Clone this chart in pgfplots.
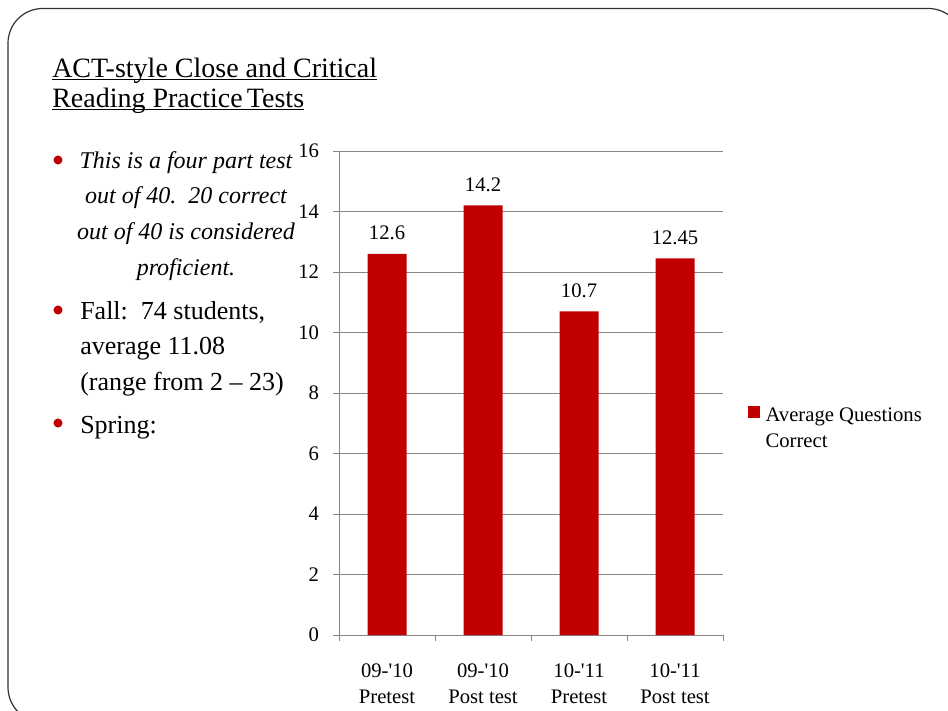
\documentclass[border=0pt]{standalone}
\usepackage{pgfplots}
\pgfplotsset{compat=1.18}
\usepackage{pgfplotstable}
\usepackage{fontspec}
\setmainfont{Liberation Serif}
\definecolor{barred}{RGB}{192,0,0}
\definecolor{axisgray}{RGB}{134,134,134}
\pgfplotstableread{
x y label
0 12.6 12.6
1 14.2 14.2
2 10.7 10.7
3 12.45 12.45
}\datatable
\newcommand\tickfont{\fontsize{15.5}{19.5}\selectfont}
\begin{document}
\begin{tikzpicture}
\begin{scope}[x=0.75pt,y=-0.75pt]
\useasboundingbox (0,0) rectangle (948,710);
\begin{scope}
\clip (0,0) rectangle (948,710);
\draw[line width=0.9pt, black!80, rounded corners=26pt] (8,8.5) rectangle (963,722);
\end{scope}
\coordinate (AO) at (339,635);
% title
\node[anchor=base west, inner sep=0pt, font=\fontsize{21}{25}\selectfont] (t1) at (52,77) {ACT-style Close and Critical};
\node[anchor=base west, inner sep=0pt, font=\fontsize{21}{25}\selectfont] (t2) at (52,107) {Reading Practice\hspace{0.15em}Tests};
\draw[line width=0.8pt] ([yshift=-1.6pt]t1.base west) -- ([yshift=-1.6pt]t1.base east);
\draw[line width=0.8pt] ([yshift=-1.6pt]t2.base west) -- ([yshift=-1.6pt]t2.base east);
% bullets
\foreach \yy in {160,310,423} \fill[barred] (58,\yy) circle (3.4pt);
\begin{scope}[every node/.style={inner sep=0pt, anchor=base, font=\fontsize{18}{22}\selectfont\itshape}]
\node at (186,168) {This is a four part test};
\node at (186,203) {out of 40.\ \ 20 correct};
\node at (186,239) {out of 40 is considered};
\node at (186,275) {proficient.};
\end{scope}
\begin{scope}[every node/.style={inner sep=0pt, anchor=base west, font=\fontsize{19.5}{23}\selectfont}]
\node at (80,319) {Fall:\ \ 74 students,};
\node at (80,354) {average 11.08};
\node at (80,390) {(range from 2 -- 23)};
\node at (80,433) {Spring:};
\end{scope}
\end{scope}
\begin{axis}[
  at={(AO)}, anchor=south west,
  scale only axis, width=288pt, height=363pt,
  xmin=-0.5, xmax=3.5, ymin=0, ymax=16,
  ytick={0,2,...,16},
  xtick={0,1,2,3},
  xticklabels={09-\textquotesingle10\\Pretest, 09-\textquotesingle10\\Post test, 10-\textquotesingle11\\Pretest, 10-\textquotesingle11\\Post test},
  minor xtick={-0.5,0.5,1.5,2.5,3.5},
  axis x line*=bottom, axis y line*=left,
  axis line style={axisgray, line width=0.75pt, -},
  ymajorgrids,
  major grid style={axisgray, line width=0.75pt},
  tick align=outside,
  major tick length=4.5pt, minor tick length=4.5pt,
  tick style={axisgray, line width=0.75pt},
  major x tick style={draw=none},
  /pgf/number format/assume math mode=true,
  ticklabel style={font=\tickfont},
  xticklabel style={align=center, yshift=-13.5pt},
  yticklabel style={xshift=-7pt},
  ybar, bar width=29.25pt,
  nodes near coords, point meta=explicit symbolic,
  nodes near coords style={font=\tickfont, anchor=base, yshift=10.5pt, text=black, inner sep=0pt},
  legend style={draw=none, fill=none, at={(1.065,0.475)}, anchor=north west, font=\tickfont, cells={align=left, anchor=west}, inner sep=0pt},
  legend image code/.code={\path[draw=none, fill=none] (0pt,-17.25pt) rectangle (11pt,17.25pt); \fill[#1] (0pt,8.25pt) rectangle (9pt,17.25pt);},
]
\addplot[fill=barred, draw=none] table[x=x, y=y, meta=label] {\datatable};
\addlegendentry{Average Questions\\Correct}
\end{axis}
\end{tikzpicture}
\end{document}
